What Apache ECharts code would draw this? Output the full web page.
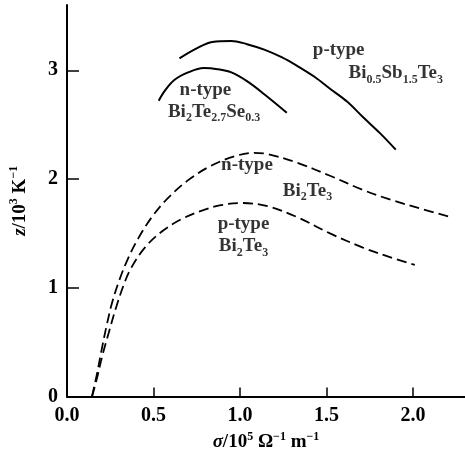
<!DOCTYPE html>
<html><head><meta charset="utf-8">
<script src="https://cdn.jsdelivr.net/npm/echarts@6/dist/echarts.min.js"></script>
<style>html,body{margin:0;padding:0;background:#fff}#c{width:465px;height:457px}</style>
</head><body><div id="c"></div>
<script>
// Tick values
const xTicks = [0, 0.5, 1.0, 1.5, 2.0];
const yTicks = [0, 1, 2, 3];

// p-type Bi0.5Sb1.5Te3 (solid)
const pBiSbTe = [[0.65,3.11],[0.76,3.21],[0.84,3.26],[0.95,3.27],[1.04,3.24],[1.14,3.19],[1.24,3.12],[1.33,3.04],[1.43,2.94],[1.52,2.83],[1.62,2.71],[1.71,2.57],[1.81,2.42],[1.90,2.27]];
// n-type Bi2Te2.7Se0.3 (solid)
const nBiTeSe = [[0.53,2.72],[0.565,2.81],[0.62,2.91],[0.70,2.98],[0.79,3.02],[0.87,3.01],[0.95,2.98],[1.04,2.90],[1.14,2.78],[1.27,2.61]];
// n-type Bi2Te3 (dashed)
const nBiTe = [[0.144,0.0],[0.172,0.20],[0.20,0.43],[0.23,0.66],[0.26,0.86],[0.30,1.06],[0.35,1.26],[0.41,1.45],[0.49,1.65],[0.58,1.82],[0.70,1.99],[0.83,2.12],[0.97,2.21],[1.08,2.24],[1.16,2.23],[1.33,2.15],[1.52,2.03],[1.71,1.90],[1.87,1.81],[2.06,1.72],[2.22,1.65]];
// p-type Bi2Te3 (dashed)
const pBiTe = [[0.145,0.0],[0.175,0.18],[0.205,0.38],[0.24,0.58],[0.28,0.80],[0.326,1.02],[0.37,1.18],[0.45,1.37],[0.55,1.52],[0.66,1.63],[0.78,1.71],[0.89,1.76],[1.01,1.78],[1.16,1.75],[1.33,1.65],[1.52,1.50],[1.71,1.37],[1.87,1.28],[2.01,1.21]];

// Curve annotations: rich-text label and its centre in data units
const annotations = [
  ['p-type', 1.57, 3.19],
  ['Bi{sub|0.5}Sb{sub|1.5}Te{sub|3}', 1.90, 2.97],
  ['n-type', 0.80, 2.82],
  ['Bi{sub|2}Te{sub|2.7}Se{sub|0.3}', 0.85, 2.62],
  ['n-type', 1.04, 2.13],
  ['Bi{sub|2}Te{sub|3}', 1.39, 1.89],
  ['p-type', 1.02, 1.59],
  ['Bi{sub|2}Te{sub|3}', 1.02, 1.38]
];

const FONT = 'Liberation Serif';
const base = {fontFamily: FONT, fontWeight: 'bold', color: '#000'};
const rich = {
  n: Object.assign({fontSize: 19, lineHeight: 24}, base),
  it: Object.assign({fontSize: 19, lineHeight: 24, fontStyle: 'italic'}, base),
  sub: Object.assign({fontSize: 12, lineHeight: 12, verticalAlign: 'bottom'}, base),
  sup: Object.assign({fontSize: 12, lineHeight: 12, verticalAlign: 'top'}, base)
};

const chart = echarts.init(document.getElementById('c'), null, {renderer: 'canvas'});
const lineBase = {type: 'line', symbol: 'none', smooth: 0.35, silent: true};
chart.setOption({
  animation: false,
  backgroundColor: '#fff',
  grid: {left: 65, right: 0, top: 5, bottom: 56, containLabel: false},
  xAxis: {
    type: 'value', min: 0, max: 2.3,
    name: '{it|σ}{n|/10}{sup|5}{n| Ω}{sup|−1}{n| m}{sup|−1}',
    nameLocation: 'middle', nameGap: 30,
    nameTextStyle: {rich: rich},
    axisLine: {show: true, lineStyle: {color: '#000', width: 2}},
    axisTick: {show: true, inside: true, length: 9, customValues: xTicks, lineStyle: {color: '#000', width: 1.5}},
    axisLabel: {customValues: xTicks, margin: 9, fontFamily: FONT, fontWeight: 'bold', fontSize: 20, color: '#000',
      formatter: v => v.toFixed(1)},
    splitLine: {show: false}
  },
  yAxis: {
    type: 'value', min: 0, max: 3.6,
    name: '{it|z}{n|/10}{sup|3}{n| K}{sup|−1}',
    nameLocation: 'middle', nameGap: 35,
    nameTextStyle: {rich: rich},
    axisLine: {show: true, lineStyle: {color: '#000', width: 2}},
    axisTick: {show: true, inside: true, length: 12, customValues: yTicks, lineStyle: {color: '#000', width: 1.5}},
    axisLabel: {customValues: yTicks, margin: 9, fontFamily: FONT, fontWeight: 'bold', fontSize: 20, color: '#000'},
    splitLine: {show: false}
  },
  series: [
    Object.assign({name: 'p-type Bi0.5Sb1.5Te3', data: pBiSbTe, lineStyle: {color: '#000', width: 2}}, lineBase),
    Object.assign({name: 'n-type Bi2Te2.7Se0.3', data: nBiTeSe, lineStyle: {color: '#000', width: 2}}, lineBase),
    Object.assign({name: 'n-type Bi2Te3', data: nBiTe, lineStyle: {color: '#000', width: 1.8, type: [10, 5]}}, lineBase),
    Object.assign({name: 'p-type Bi2Te3', data: pBiTe, lineStyle: {color: '#000', width: 1.8, type: [10, 5]}}, lineBase),
    {
      type: 'scatter', silent: true, symbolSize: 1, itemStyle: {color: 'rgba(0,0,0,0)'},
      data: annotations.map(a => ({value: [a[1], a[2]], txt: a[0]})),
      label: {show: true, position: 'inside', rich: rich,
        formatter: p => p.data.txt.replace(/(^|\})([^{}]+)(?=\{|$)/g, (m, pre, t) => pre + '{n|' + t + '}')}
    }
  ]
});
</script></body></html>
